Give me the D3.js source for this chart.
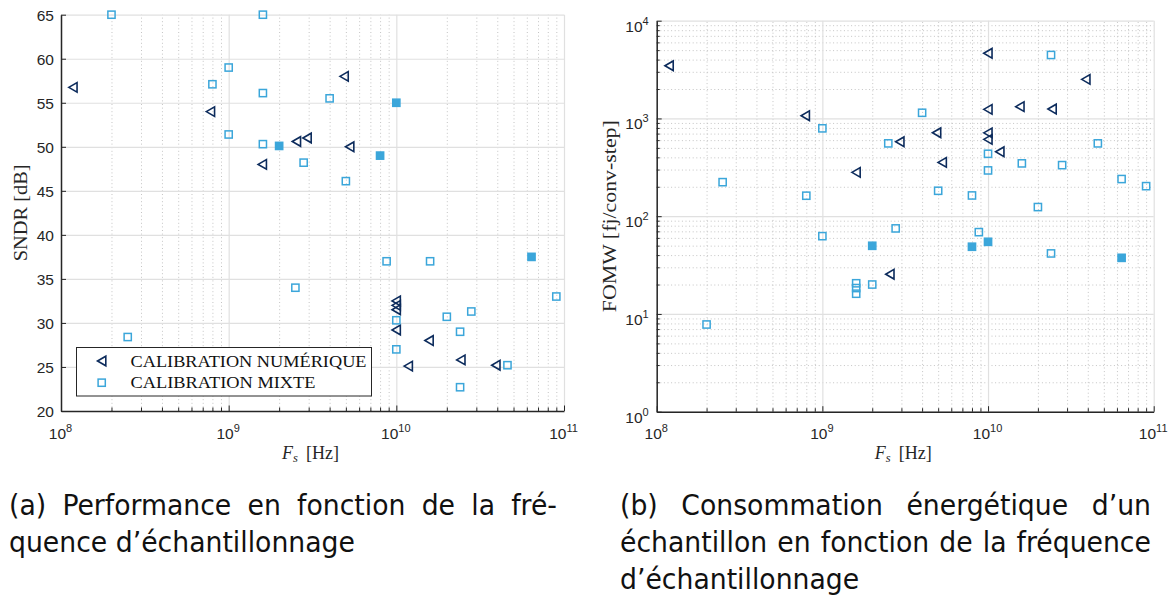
<!DOCTYPE html>
<html><head><meta charset="utf-8">
<script src="https://cdn.jsdelivr.net/npm/d3@7"></script>
<style>body{margin:0;background:#fff}svg{display:block}</style>
</head><body><svg id="c" width="1172" height="596"></svg>
<script>
// ---------------- DATA ----------------
// Panel (a): SNDR vs Fs
const numFsA   = [1.18e8, 7.8e8, 1.59e9, 2.54e9, 2.94e9, 4.89e9, 5.28e9, 1e10, 1e10, 1e10, 1e10, 1.18e10, 1.57e10, 2.43e10, 3.93e10];
const numSNDR  = [56.75, 54.0, 48.0, 50.6, 51.0, 58.0, 50.0, 32.5, 32.0, 31.5, 29.2, 25.1, 28.0, 25.8, 25.2];
const mixFsA   = [2e8, 2.5e8, 8e8, 1e9, 1e9, 1.6e9, 1.6e9, 1.6e9, 2e9, 2.5e9, 2.8e9, 4e9, 5e9, 8e9, 8.75e9, 1e10, 1e10, 1e10, 1.59e10, 2e10, 2.4e10, 2.4e10, 2.8e10, 4.6e10, 6.4e10, 9e10];
const mixSNDR  = [65, 28.4, 57.1, 59.0, 51.4, 65, 56.1, 50.3, 50.1, 34.0, 48.2, 55.5, 46.1, 49.0, 37.0, 55.0, 30.3, 27.0, 37.0, 30.7, 29.0, 22.7, 31.3, 25.2, 37.5, 33.0];
const mixFillA = [0,0,0,0,0,0,0,0,1,0,0,0,0,1,0,1,0,0,0,0,0,0,0,0,1,0];
// Panel (b): FOMW vs Fs
const numFsB   = [1.19e8, 7.9e8, 1.6e9, 2.56e9, 2.94e9, 4.9e9, 5.3e9, 1e10, 1e10, 1e10, 1e10, 1.18e10, 1.56e10, 2.44e10, 3.9e10];
const numFOM   = [3460, 1067, 281, 25.5, 577, 714, 355, 4640, 1239, 712, 611, 456, 1320, 1248, 2512];
const mixFsB   = [2e8, 2.5e8, 8e8, 1e9, 1e9, 1.6e9, 1.6e9, 1.6e9, 2e9, 2e9, 2.5e9, 2.77e9, 4e9, 5e9, 8e9, 8e9, 8.8e9, 1e10, 1e10, 1e10, 1.6e10, 2e10, 2.4e10, 2.4e10, 2.8e10, 4.6e10, 6.4e10, 6.4e10, 9e10];
const mixFOM   = [7.8, 223, 162, 792, 62.5, 20.6, 18.4, 16.1, 49.8, 20, 556, 75, 1143, 182, 163, 48.7, 68.7, 54.7, 435, 294, 347, 124, 4460, 41.6, 333, 556, 240, 37.5, 203];
const mixFillB = [0,0,0,0,0,0,0,0,1,0,0,0,0,0,0,1,0,1,0,0,0,0,0,0,0,0,0,1,0];
// Ticks / labels
const xDecades   = [8, 9, 10, 11];
const sndrTicks  = [20, 25, 30, 35, 40, 45, 50, 55, 60, 65];
const fomDecades = [0, 1, 2, 3, 4];
const legendLabels = ["CALIBRATION NUMÉRIQUE", "CALIBRATION MIXTE"];
const capA = [["(a)","Performance","en","fonction","de","la","fré-"],["quence","d’échantillonnage"]];
const capB = [["(b)","Consommation","énergétique","d’un"],["échantillon","en","fonction","de","la","fréquence"],["d’échantillonnage"]];

// ---------------- STYLE ----------------
const NAVY = "#0c2b5c", BLUE = "#3ba6da", AX = "#262626";
const TICKF = "'Liberation Sans', Arial, Helvetica, sans-serif";
const SERIF = "'Liberation Serif', 'Times New Roman', serif";
const svg = d3.select("#c");

function minorVals(d0, d1){ const o=[]; for(let e=d0;e<d1;e++) for(let m=2;m<=9;m++) o.push(m*Math.pow(10,e)); return o; }

function panel(o){
  const g = svg.append("g");
  const x = d3.scaleLog().domain([1e8,1e11]).range([o.x0,o.x1]);
  const y = o.ylog ? d3.scaleLog().domain([1,1e4]).range([o.y0,o.y1])
                   : d3.scaleLinear().domain([20,65]).range([o.y0,o.y1]);
  const ph = o.y0 - o.y1, pw = o.x1 - o.x0;
  const xMaj = xDecades.map(e=>Math.pow(10,e));
  // minor grids
  const gxm = g.append("g").attr("transform",`translate(0,${o.y0})`)
    .call(d3.axisBottom(x).tickValues(minorVals(8,11)).tickSize(-ph).tickFormat(()=>""));
  gxm.select(".domain").remove();
  gxm.selectAll("line").attr("stroke","#c4c4c4").attr("stroke-width",1).attr("stroke-dasharray","1,2.6");
  if (o.ylog){
    const gym = g.append("g").attr("transform",`translate(${o.x0},0)`)
      .call(d3.axisLeft(y).tickValues(minorVals(0,4)).tickSize(-pw).tickFormat(()=>""));
    gym.select(".domain").remove();
    gym.selectAll("line").attr("stroke","#c4c4c4").attr("stroke-width",1).attr("stroke-dasharray","1,2.6");
  }
  // major grids
  const gx = g.append("g").attr("transform",`translate(0,${o.y0})`)
    .call(d3.axisBottom(x).tickValues(xMaj).tickSize(-ph).tickFormat(()=>""));
  gx.select(".domain").remove();
  gx.selectAll("line").attr("stroke","#e0e0e0").attr("stroke-width",1.2);
  const yMaj = o.ylog ? fomDecades.map(e=>Math.pow(10,e)) : sndrTicks;
  const gy = g.append("g").attr("transform",`translate(${o.x0},0)`)
    .call(d3.axisLeft(y).tickValues(yMaj).tickSize(-pw).tickFormat(()=>""));
  gy.select(".domain").remove();
  gy.selectAll("line").attr("stroke","#e0e0e0").attr("stroke-width",1.2);

  // axes: bottom
  const ab = g.append("g").attr("transform",`translate(0,${o.y0})`)
    .call(d3.axisBottom(x).tickValues(minorVals(8,11)).tickSizeInner(-3.5).tickSizeOuter(0).tickFormat(()=>""));
  ab.selectAll("line").attr("stroke",AX).attr("stroke-width",1);
  ab.select(".domain").attr("stroke",AX).attr("stroke-width",1.5);
  const abM = g.append("g").attr("transform",`translate(0,${o.y0})`)
    .call(d3.axisBottom(x).tickValues(xMaj).tickSizeInner(-5.5).tickSizeOuter(0).tickFormat(()=>""));
  abM.select(".domain").remove();
  abM.selectAll("line").attr("stroke",AX).attr("stroke-width",1);
  abM.selectAll(".tick text").remove();
  abM.selectAll(".tick").each(function(d){
    const t = d3.select(this).append("text").attr("font-family",TICKF).attr("fill",AX)
      .attr("text-anchor","middle").attr("y",27.5).attr("x",-1);
    t.append("tspan").attr("font-size",15.5).text("10");
    t.append("tspan").attr("font-size",11).attr("dy",-7).text(Math.round(Math.log10(d)));
  });
  // axes: left
  if (o.ylog){
    const alm = g.append("g").attr("transform",`translate(${o.x0},0)`)
      .call(d3.axisLeft(y).tickValues(minorVals(0,4)).tickSizeInner(-3).tickSizeOuter(0).tickFormat(()=>""));
    alm.select(".domain").remove();
    alm.selectAll("line").attr("stroke",AX).attr("stroke-width",1);
  }
  const al = g.append("g").attr("transform",`translate(${o.x0},0)`)
    .call(d3.axisLeft(y).tickValues(yMaj).tickSizeInner(-5).tickSizeOuter(0).tickFormat(()=>""));
  al.select(".domain").attr("stroke",AX).attr("stroke-width",1.5);
  al.selectAll("line").attr("stroke",AX).attr("stroke-width",1);
  al.selectAll(".tick text").remove();
  al.selectAll(".tick").each(function(d){
    const t = d3.select(this).append("text").attr("font-family",TICKF).attr("fill",AX).attr("text-anchor","end");
    if (o.ylog){
      t.attr("x",-8).attr("y",10.5);
      t.append("tspan").attr("font-size",15.5).text("10");
      t.append("tspan").attr("font-size",11).attr("dy",-7).text(Math.round(Math.log10(d)));
    } else {
      t.attr("x",-7).attr("y",5.5).attr("font-size",15.5).text(d);
    }
  });
  // axis labels
  const xl = g.append("text").attr("font-family",SERIF).attr("font-size",18).attr("fill",AX)
    .attr("x",(o.x0+o.x1)/2 - 2).attr("y",459).attr("text-anchor","middle");
  xl.append("tspan").attr("font-style","italic").text("F");
  xl.append("tspan").attr("font-style","italic").attr("font-size",12.5).attr("dy",3).text("s");
  xl.append("tspan").attr("dy",-3).text("\u2009 [Hz]");
  g.append("text").attr("font-family",SERIF).attr("font-size",18).attr("fill",AX)
    .attr("transform",`translate(${o.ylx},${(o.y0+o.y1)/2}) rotate(-90)`)
    .attr("text-anchor","middle").attr("textLength",o.ylLen).attr("lengthAdjust","spacingAndGlyphs")
    .text(o.ylabel);

  // markers
  const tri = (cx,cy)=>`M${cx-4.3},${cy}L${cx+4},${cy-4.8}L${cx+4},${cy+4.8}Z`;
  g.append("g").selectAll("path").data(o.num).join("path")
    .attr("d",d=>tri(x(d[0]),y(d[1]))).attr("fill","none").attr("stroke",NAVY).attr("stroke-width",1.6).attr("stroke-linejoin","miter");
  g.append("g").selectAll("rect").data(o.mix).join("rect")
    .attr("x",d=>x(d[0])-3.6).attr("y",d=>y(d[1])-3.6).attr("width",7.2).attr("height",7.2)
    .attr("fill",d=>d[2]?BLUE:"none").attr("stroke",BLUE).attr("stroke-width",1.5);
  return {g,x,y};
}

const A = panel({x0:61, x1:564, y0:411, y1:14.7, ylog:false, ylabel:"SNDR [dB]", ylx:27, ylLen:97,
  num: numFsA.map((v,i)=>[v,numSNDR[i]]), mix: mixFsA.map((v,i)=>[v,mixSNDR[i],mixFillA[i]])});
const B = panel({x0:656.7, x1:1153.7, y0:411.7, y1:20.7, ylog:true, ylabel:"FOMW [fj/conv-step]", ylx:616, ylLen:192,
  num: numFsB.map((v,i)=>[v,numFOM[i]]), mix: mixFsB.map((v,i)=>[v,mixFOM[i],mixFillB[i]])});

// legend (panel a)
const lg = A.g.append("g");
lg.append("rect").attr("x",76.5).attr("y",347.5).attr("width",295).attr("height",48.5)
  .attr("fill","#fff").attr("stroke",AX).attr("stroke-width",1);
lg.append("path").attr("d","M97.5,361L105.8,356.2L105.8,365.8Z").attr("fill","none").attr("stroke",NAVY).attr("stroke-width",1.6);
lg.append("rect").attr("x",98.1).attr("y",379.1).attr("width",7.2).attr("height",7.2).attr("fill","none").attr("stroke",BLUE).attr("stroke-width",1.5);
const legLens = [236, 185];
legendLabels.forEach((s,i)=>{
  lg.append("text").attr("x",130.5).attr("y",366.5+i*21.7).attr("font-family",SERIF).attr("font-size",16.5)
    .attr("fill","#111").attr("textLength",legLens[i]).attr("lengthAdjust","spacingAndGlyphs").text(s);
});

// captions
const CAPF = "'Liberation Sans Narrow','DejaVu Sans Condensed','Roboto Condensed','Liberation Sans',Arial,sans-serif";
const CAPS = 28;
function measure(w){ const t=svg.append("text").attr("font-family",CAPF).attr("font-size",CAPS).text(w);
  const v=t.node().getComputedTextLength(); t.remove(); return v; }
const sx = 346 / measure("quence d’échantillonnage");
const spW = (measure("n n") - measure("nn")) * sx;
function capLine(words, x0, x1, yb, justify){
  const ws = words.map(w=>measure(w)*sx);
  const gap = justify ? ((x1-x0) - d3.sum(ws))/(words.length-1) : spW;
  let cx = x0;
  words.forEach((w,i)=>{
    svg.append("text").attr("transform",`translate(${cx},${yb}) scale(${sx},1)`)
      .attr("font-family",CAPF).attr("font-size",CAPS).attr("fill","#111").text(w);
    cx += ws[i] + gap;
  });
}
capLine(capA[0], 9, 557, 515, true);
capLine(capA[1], 9, 557, 552, false);
capLine(capB[0], 620, 1151, 515, true);
capLine(capB[1], 620, 1151, 552, true);
capLine(capB[2], 620, 1151, 589, false);
</script></body></html>
